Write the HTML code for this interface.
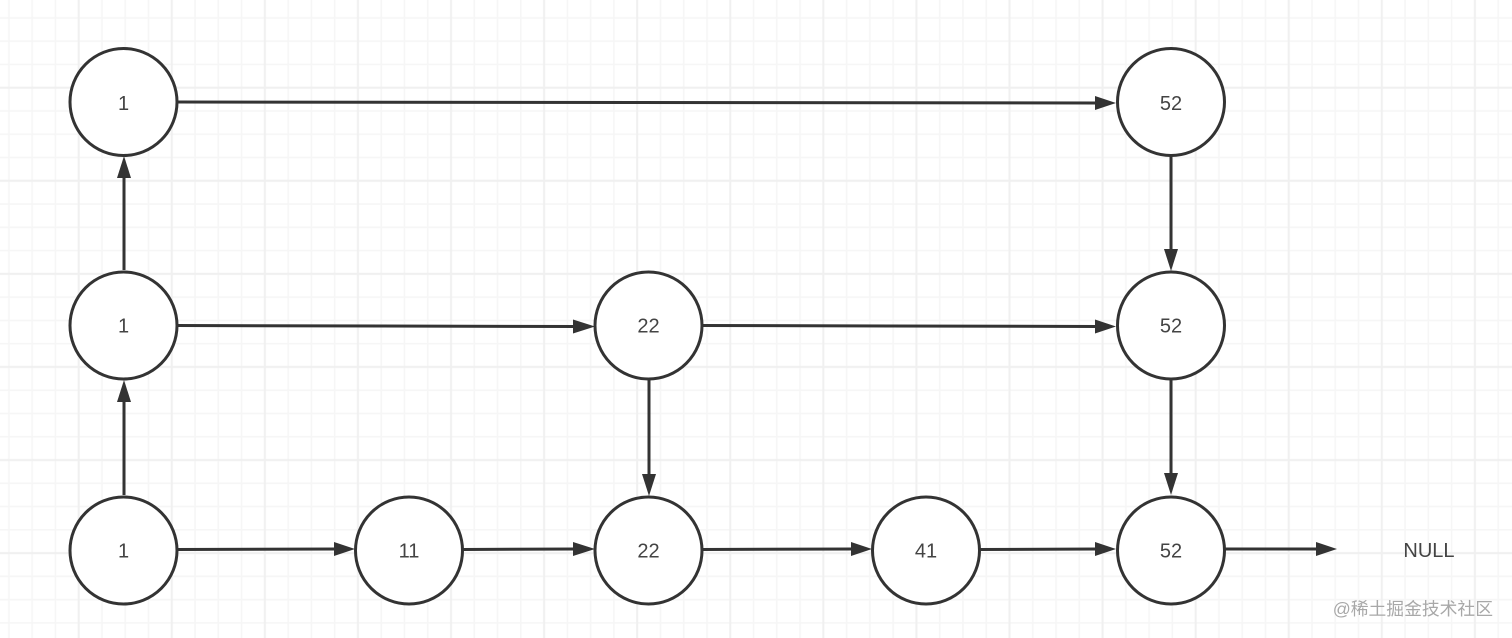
<!DOCTYPE html>
<html><head><meta charset="utf-8">
<style>
html,body{margin:0;padding:0;background:#fff;width:1512px;height:638px;overflow:hidden}
svg{display:block}
text{font-family:"Liberation Sans","Noto Sans CJK SC",sans-serif}
</style></head>
<body>
<svg xmlns="http://www.w3.org/2000/svg" width="1512" height="638" viewBox="0 0 1512 638">
<defs>
<pattern id="g" patternUnits="userSpaceOnUse" width="93.08" height="93.08" patternTransform="translate(67.065 76.065)">
<g stroke="#f6f6f6" stroke-width="1.6" fill="none">
<path d="M34.905 0V93.08M58.175 0V93.08M81.445 0V93.08"/>
<path d="M0 34.905H93.08M0 58.175H93.08M0 81.445H93.08"/>
</g>
<g stroke="#f0f0f0" stroke-width="2" fill="none">
<path d="M11.635 0V93.08"/>
<path d="M0 11.635H93.08"/>
</g>
</pattern>
</defs>
<rect width="1512" height="638" fill="#fff"/>
<rect width="1512" height="638" fill="url(#g)"/>
<g stroke="#333" stroke-width="3" fill="none">
<path d="M177 102L1098 103"/>
<path d="M124 270V176"/>
<path d="M124 495V399"/>
<path d="M177 325.500L576 326.500"/>
<path d="M702 325.500L1098 326.500"/>
<path d="M1171 156V252"/>
<path d="M1171 380V476"/>
<path d="M649 380V476"/>
<path d="M177 549.500L338 549"/>
<path d="M463 549.500L576 549"/>
<path d="M702 549.500L854 549"/>
<path d="M980 549.500L1098 549"/>
<path d="M1225 549H1318"/>
</g>
<g fill="#333">
<path d="M1116 103L1095 96V110Z"/>
<path d="M124 156L117 178H131Z"/>
<path d="M124 380L117 402H131Z"/>
<path d="M595 326.500L573 319.500V333.500Z"/>
<path d="M1116 326.500L1095 319.500V333.500Z"/>
<path d="M1171 271L1164 249H1178Z"/>
<path d="M1171 495L1164 473H1178Z"/>
<path d="M649 496L642 474H656Z"/>
<path d="M355 549L334 542V556Z"/>
<path d="M595 549L573 542V556Z"/>
<path d="M872 549L851 542V556Z"/>
<path d="M1116 549L1095 542V556Z"/>
<path d="M1337 549L1316 542V556Z"/>
</g>
<g fill="#fff" stroke="#333" stroke-width="3">
<circle cx="123.500" cy="102" r="53.500"/>
<circle cx="123.500" cy="325.500" r="53.500"/>
<circle cx="123.500" cy="550.500" r="53.500"/>
<circle cx="409" cy="550.500" r="53.500"/>
<circle cx="648.500" cy="325.500" r="53.500"/>
<circle cx="648.500" cy="550.500" r="53.500"/>
<circle cx="926" cy="550.500" r="53.500"/>
<circle cx="1171" cy="102" r="53.500"/>
<circle cx="1171" cy="325.500" r="53.500"/>
<circle cx="1171" cy="550.500" r="53.500"/>
</g>
<g fill="#444" font-size="20" text-anchor="middle">
<text x="123.500" y="110">1</text>
<text x="123.500" y="332.500">1</text>
<text x="123.500" y="557.500">1</text>
<text x="409" y="557.500">11</text>
<text x="648.500" y="332.500">22</text>
<text x="648.500" y="557.500">22</text>
<text x="926" y="557.500">41</text>
<text x="1171" y="110">52</text>
<text x="1171" y="332.500">52</text>
<text x="1171" y="557.500">52</text>
<text x="1429" y="557">NULL</text>
</g>
<text x="1493" y="615" text-anchor="end" font-size="17.800" fill="#a8a8a8">@稀土掘金技术社区</text>
</svg>
</body></html>
